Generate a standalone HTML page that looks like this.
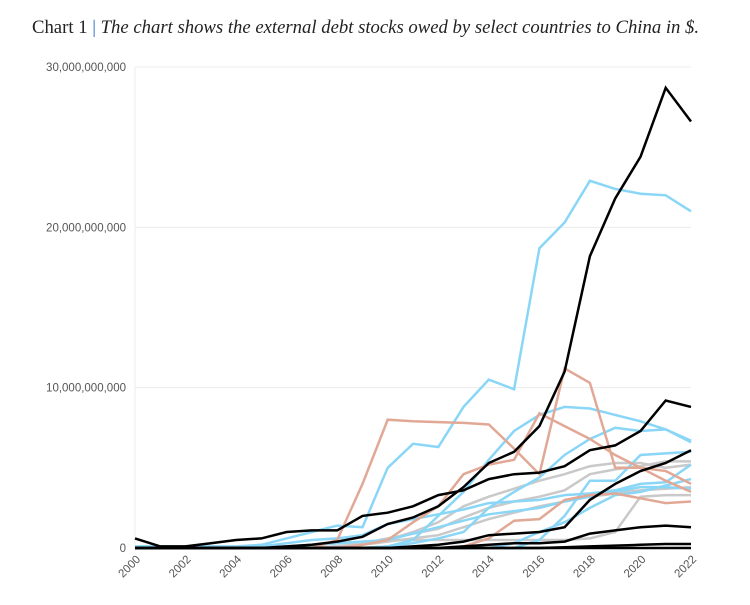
<!DOCTYPE html>
<html><head><meta charset="utf-8"><style>
body{margin:0;background:#fff;width:750px;height:605px;overflow:hidden}
#title{position:absolute;left:32px;top:17px;font-family:"Liberation Serif",serif;font-size:18.7px;color:#222;letter-spacing:0px;white-space:nowrap}
#title i{font-style:italic}
#title .bar{color:#2a6ebb}
svg{position:absolute;left:0;top:0}
</style></head><body>
<div id="title">Chart 1 <span class="bar">|</span> <i>The chart shows the external debt stocks owed by select countries to China in $.</i></div>
<svg id="chart" width="750" height="605"></svg>
<script>
const years=[2000,2001,2002,2003,2004,2005,2006,2007,2008,2009,2010,2011,2012,2013,2014,2015,2016,2017,2018,2019,2020,2021,2022];
const yTicks=[0,10,20,30];
const yTickLabels=["0","10,000,000,000","20,000,000,000","30,000,000,000"];
const xTickYears=[2000,2002,2004,2006,2008,2010,2012,2014,2016,2018,2020,2022];
// values in billions of $
const seriesColors=["#c9c9c9","#c9c9c9","#c9c9c9","#c9c9c9","#8ad6f7","#8ad6f7","#8ad6f7","#8ad6f7","#8ad6f7","#8ad6f7","#8ad6f7","#e2a896","#e2a896","#e2a896","#000","#000","#000","#000","#000","#000"];
const g1=[0,0,0,0,0,0,0,0,0.1,0.2,0.5,1.0,1.6,2.6,3.2,3.7,4.2,4.6,5.1,5.3,5.3,5.0,5.2];
const g2=[0,0,0,0,0,0,0,0,0.1,0.3,0.6,0.9,1.2,1.9,2.5,2.9,3.2,3.6,4.6,4.9,5.1,5.4,5.4];
const g3=[0,0,0,0,0,0,0.1,0.2,0.3,0.4,0.5,0.5,0.5,0.5,0.5,0.5,0.5,0.5,0.6,1.0,3.2,3.3,3.3];
const g4=[0,0,0,0,0,0,0,0,0.1,0.2,0.4,0.6,0.8,1.3,1.8,2.2,2.6,2.9,3.2,3.4,3.6,3.7,3.8];
const b1=[0.1,0.1,0.1,0.1,0.1,0.2,0.6,1.0,1.4,1.3,5.0,6.5,6.3,8.8,10.5,9.9,18.7,20.3,22.9,22.4,22.1,22.0,21.0];
const b2=[0,0,0,0,0,0,0,0,0,0,0.1,0.5,2.0,3.5,5.5,7.3,8.3,8.8,8.7,8.3,7.9,7.4,6.7];
const b3=[0,0,0,0,0,0,0,0,0,0,0.1,0.3,0.6,1.0,2.5,3.5,4.4,5.8,6.8,7.5,7.3,7.4,6.6];
const b4=[0,0,0,0,0,0,0,0,0,0,0,0,0,0,0,0,0.5,2.0,4.2,4.2,5.8,5.9,6.0];
const b5=[0,0,0,0,0,0.1,0.3,0.5,0.6,0.8,1.5,1.8,2.1,2.4,2.8,2.9,3.0,3.3,3.4,3.6,4.0,4.1,5.2];
const b6=[0,0,0,0,0,0,0.1,0.2,0.3,0.4,0.5,0.9,1.3,1.7,2.1,2.3,2.5,2.9,3.2,3.5,3.8,3.8,3.7];
const b7=[0,0,0,0,0,0,0,0,0,0,0,0,0,0,0,0.3,1.0,1.6,2.5,3.3,3.5,3.9,4.3];
const o1=[0,0,0,0,0,0,0,0,0.5,4.0,8.0,7.9,7.85,7.8,7.7,6.2,4.6,11.2,10.3,5.0,5.0,4.8,4.0];
const o2=[0,0,0,0,0,0,0,0,0,0.2,0.5,1.6,2.6,4.6,5.2,5.5,8.4,7.6,6.8,5.8,5.0,4.2,3.5];
const o3=[0,0,0,0,0,0,0,0,0,0,0,0,0,0.1,0.6,1.7,1.8,3.0,3.3,3.4,3.1,2.8,2.9];
const k1=[0.6,0.1,0.1,0.3,0.5,0.6,1.0,1.1,1.1,2.0,2.2,2.6,3.3,3.6,4.3,4.6,4.7,5.1,6.1,6.4,7.3,9.2,8.8];
const k2=[0,0,0,0,0,0,0.1,0.2,0.4,0.7,1.5,1.9,2.6,3.8,5.3,6.0,7.6,11.0,18.2,21.8,24.4,28.7,26.6];
const k3=[0,0,0,0,0,0,0,0,0,0,0,0.1,0.2,0.4,0.8,0.9,1.0,1.3,3.0,4.0,4.8,5.3,6.1];
const k4=[0,0,0,0,0,0,0,0,0,0,0,0,0,0.1,0.2,0.3,0.3,0.4,0.9,1.1,1.3,1.4,1.3];
const k5=[0,0,0,0,0,0,0,0,0,0,0,0,0,0,0,0,0,0.05,0.1,0.15,0.2,0.25,0.25];
const k6=[0,0,0,0,0,0,0,0,0,0,0,0,0,0,0,0,0,0,0,0,0,0,0];
const allSeries=[g1,g2,g3,g4,b1,b2,b3,b4,b5,b6,b7,o1,o2,o3,k1,k2,k3,k4,k5,k6];
const seriesNames=["grey-series-1","grey-series-2","grey-series-3","grey-series-4","blue-series-1","blue-series-2","blue-series-3","blue-series-4","blue-series-5","blue-series-6","blue-series-7","orange-series-1","orange-series-2","orange-series-3","black-series-1","black-series-2","black-series-3","black-series-4","black-series-5","black-series-6"];

const X0=135,X1=691,Y0=548,Y1=67;
const xS=v=>X0+(v-2000)/(22)*(X1-X0);
const yS=v=>Y0-(v/30)*(Y0-Y1);
const svg=document.getElementById('chart');
const NS="http://www.w3.org/2000/svg";
function mk(t,a){const e=document.createElementNS(NS,t);for(const k in a)e.setAttribute(k,a[k]);svg.appendChild(e);return e;}

yTicks.forEach((t,i)=>{
  const l=mk('line',{x1:X0,x2:X1,y1:yS(t),y2:yS(t),stroke:'#ececec','stroke-width':1});
  
  
  const tx=mk('text',{x:126,y:yS(t)+4,'text-anchor':'end','font-family':'Liberation Sans, sans-serif','font-size':'11.5',fill:'#555'});
  tx.textContent=yTickLabels[i];
  
  
});
const ax=mk('line',{x1:X0,x2:X0,y1:Y1,y2:Y0,stroke:'#ececec','stroke-width':1});


xTickYears.forEach(yr=>{
  const x=xS(yr);
  const tx=mk('text',{x:x+6,y:Y0+12,'text-anchor':'end','font-family':'Liberation Sans, sans-serif','font-size':'11.5',fill:'#555',transform:`rotate(-45 ${x+6} ${Y0+12})`});
  tx.textContent=yr;
  
  
});
allSeries.forEach((s,i)=>{
  const pts=s.map((v,j)=>xS(years[j]).toFixed(1)+','+yS(v).toFixed(1)).join(' ');
  const p=mk('polyline',{points:pts,fill:'none',stroke:seriesColors[i],'stroke-width':2.5,'stroke-linejoin':'miter'});
  
  
});
</script>
</body></html>
